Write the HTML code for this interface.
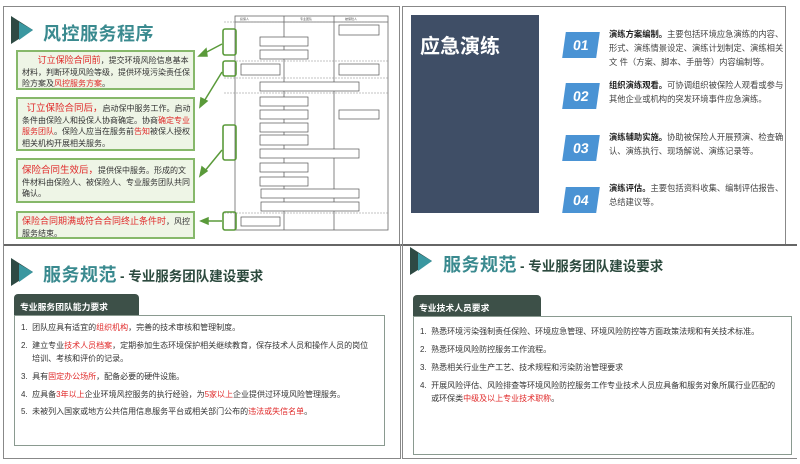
<!DOCTYPE html>
<html><head><meta charset="utf-8"><style>
*{margin:0;padding:0;box-sizing:border-box}
body{width:800px;height:464px;background:#fff;position:relative;overflow:hidden;font-family:"Liberation Sans","Noto Sans CJK SC",sans-serif}
.a{position:absolute}
.gb{position:absolute;left:16px;width:179px;background:#eef5e6;border:2px solid #86b86a;font-size:8px;line-height:11.5px;color:#333;padding:4px 2px 0 4px}
.r{color:#e02a2a}
.t{color:#3a8a8f;font-size:18px;font-weight:bold;letter-spacing:0.5px;white-space:nowrap}
.sub{color:#2c4a3e;font-size:13.5px;font-weight:bold;white-space:nowrap}
.tab{position:absolute;background:#3d5048;color:#fff;font-size:8.8px;font-weight:bold;padding:6px 6px;border-radius:4px 4px 0 0;white-space:nowrap}
.box{position:absolute;border:1.5px solid #8a9a90;font-size:8px;color:#333;line-height:12px}
.box p{position:absolute;left:6px;white-space:nowrap}
.num{position:absolute;left:564px;width:34px;height:26px;background:#4a93d4;color:#fff;font-weight:bold;font-size:14px;text-align:center;line-height:26px;transform:skewX(-8deg)}
.it{position:absolute;left:609px;width:180px;font-size:8.3px;line-height:14px;color:#444}
.it b{color:#222}
</style></head><body>
<div class="a" style="left:3px;top:6px;width:397px;height:239px;border:1.5px solid #888;border-bottom:none"></div>
<div class="a" style="left:402px;top:6px;width:384px;height:239px;border:1.5px solid #888;border-bottom:none"></div>
<div class="a" style="left:3px;top:244px;width:794px;height:1.5px;background:#666"></div>
<div class="a" style="left:3px;top:244px;width:398px;height:215px;border:1.5px solid #888;border-top:none"></div>
<div class="a" style="left:402px;top:244px;width:395px;height:215px;border-left:1.5px solid #888;border-bottom:1.5px solid #888"></div>

<svg class="a" style="left:11px;top:16px" width="24" height="28"><polygon points="0,0 22,14 0,28" fill="#2e4a44"/><polygon points="8,6 22,14 8,24" fill="#3a97a0"/></svg>
<div class="a t" style="left:43px;top:20px">风控服务程序</div>
<div class="gb" style="top:50px;height:40px;padding-top:3px">&nbsp;&nbsp;&nbsp;&nbsp;&nbsp;&nbsp;&nbsp;<span class="r" style="font-size:9px">订立保险合同前</span>，提交环境风险信息基本材料，判断环境风险等级，提供环境污染责任保险方案及<span class="r">风控服务方案</span>。</div>
<div class="gb" style="top:97px;height:54px;padding-top:4px">&nbsp;&nbsp;<span class="r" style="font-size:9.5px">订立保险合同后，</span>启动保中服务工作。启动条件由保险人和投保人协商确定。协商<span class="r">确定专业服务团队</span>。保险人应当在服务前<span class="r">告知</span>被保人授权相关机构开展相关服务。</div>
<div class="gb" style="top:158px;height:45px;padding-top:5px"><span class="r" style="font-size:9.5px">保险合同生效后，</span>提供保中服务。形成的文件材料由保险人、被保险人、专业服务团队共同确认。</div>
<div class="gb" style="top:211px;height:28px;padding-top:3px"><span class="r" style="font-size:9px">保险合同期满或符合合同终止条件时</span>，风控服务结束。</div>
<svg class="a" style="left:0;top:0" width="400" height="244">
<g stroke="#5a9a3a" stroke-width="1.5" fill="#5a9a3a">
<line x1="222" y1="44" x2="203" y2="54"/><polygon points="199,56 206,49 207,56"/>
<line x1="222" y1="72" x2="203" y2="103"/><polygon points="200,107 201,98 207,101"/>
<line x1="222" y1="150" x2="204" y2="172"/><polygon points="200,176 202,167 207,171"/>
<line x1="222" y1="221" x2="206" y2="221"/><polygon points="201,221 208,218 208,224"/>
</g>
<g fill="none" stroke="#666" stroke-width="0.8">
<rect x="235" y="16" width="153" height="214"/>
<line x1="284" y1="16" x2="284" y2="230"/><line x1="334" y1="16" x2="334" y2="230"/>
<line x1="235" y1="22" x2="388" y2="22"/>
</g>
<g stroke="#888" stroke-width="0.6" stroke-dasharray="2,1">
<line x1="224" y1="22" x2="388" y2="22"/><line x1="224" y1="61" x2="388" y2="61"/><line x1="224" y1="78" x2="388" y2="78"/><line x1="224" y1="93" x2="388" y2="93"/><line x1="224" y1="213" x2="388" y2="213"/>
</g>
<g fill="#fff" stroke="#555" stroke-width="0.7">
<rect x="339" y="25" width="40" height="10"/><rect x="260" y="37" width="48" height="9"/><rect x="260" y="50" width="48" height="9"/>
<rect x="241" y="64" width="39" height="11"/><rect x="339" y="64" width="40" height="11"/><rect x="260" y="82" width="99" height="9"/>
<rect x="260" y="97" width="48" height="9"/><rect x="260" y="110" width="48" height="9"/><rect x="260" y="123" width="48" height="9"/><rect x="260" y="135" width="48" height="10"/>
<rect x="260" y="149" width="99" height="9"/><rect x="339" y="110" width="40" height="9"/>
<rect x="260" y="163" width="48" height="9"/><rect x="260" y="177" width="48" height="9"/>
<rect x="261" y="189" width="98" height="9"/><rect x="261" y="202" width="98" height="9"/><rect x="241" y="217" width="39" height="9"/>
</g>
<g fill="none" stroke="#5a9a3a" stroke-width="1.6">
<rect x="223" y="29" width="13" height="26" rx="2"/><rect x="223" y="61" width="13" height="15" rx="2"/><rect x="223" y="125" width="13" height="35" rx="2"/><rect x="223" y="212" width="13" height="18" rx="2"/>
</g>
<g font-size="3" fill="#555"><text x="240" y="20">投保人</text><text x="300" y="20">专业团队</text><text x="345" y="20">被保险人</text></g>
</svg>

<div class="a" style="left:411px;top:15px;width:128px;height:198px;background:#3f4e66"></div>
<div class="a" style="left:420px;top:30px;color:#fff;font-size:20px;font-weight:bold">应急演练</div>
<div class="num" style="top:32px">01</div>
<div class="it" style="top:27px"><b>演练方案编制。</b>主要包括环境应急演练的内容、形式、演练情景设定、演练计划制定、演练相关文 件（方案、脚本、手册等）内容编制等。</div>
<div class="num" style="top:83px">02</div>
<div class="it" style="top:78px"><b>组织演练观看。</b>可协调组织被保险人观看或参与其他企业或机构的突发环境事件应急演练。</div>
<div class="num" style="top:135px">03</div>
<div class="it" style="top:130px"><b>演练辅助实施。</b>协助被保险人开展预演、检查确认、演练执行、现场解说、演练记录等。</div>
<div class="num" style="top:187px">04</div>
<div class="it" style="top:181px"><b>演练评估。</b>主要包括资料收集、编制评估报告、总结建议等。</div>

<svg class="a" style="left:11px;top:258px" width="24" height="28"><polygon points="0,0 22,14 0,28" fill="#2e4a44"/><polygon points="8,6 22,14 8,24" fill="#3a97a0"/></svg>
<div class="a t" style="left:43px;top:261px">服务规范</div>
<div class="a sub" style="left:120px;top:265px">- 专业服务团队建设要求</div>
<div class="tab" style="left:14px;top:294px;width:125px;height:22px">专业服务团队能力要求</div>
<div class="box" style="left:14px;top:315px;width:371px;height:131px">
<p style="top:6px">1.&nbsp;&nbsp;团队应具有适宜的<span class="r">组织机构</span>，完善的技术审核和管理制度。</p>
<p style="top:24px">2.&nbsp;&nbsp;建立专业<span class="r">技术人员档案</span>，定期参加生态环境保护相关继续教育，保存技术人员和操作人员的岗位</p>
<p style="top:37px">&nbsp;&nbsp;&nbsp;&nbsp;&nbsp;培训、考核和评价的记录。</p>
<p style="top:55px">3.&nbsp;&nbsp;具有<span class="r">固定办公场所</span>，配备必要的硬件设施。</p>
<p style="top:73px">4.&nbsp;&nbsp;应具备<span class="r">3年以上</span>企业环境风控服务的执行经验，为<span class="r">5家以上</span>企业提供过环境风险管理服务。</p>
<p style="top:90px">5.&nbsp;&nbsp;未被列入国家或地方公共信用信息服务平台或相关部门公布的<span class="r">违法或失信名单</span>。</p>
</div>

<svg class="a" style="left:410px;top:247px" width="24" height="28"><polygon points="0,0 22,14 0,28" fill="#2e4a44"/><polygon points="8,6 22,14 8,24" fill="#3a97a0"/></svg>
<div class="a t" style="left:443px;top:251px">服务规范</div>
<div class="a sub" style="left:520px;top:255px">- 专业服务团队建设要求</div>
<div class="tab" style="left:413px;top:295px;width:128px;height:22px">专业技术人员要求</div>
<div class="box" style="left:413px;top:316px;width:379px;height:139px">
<p style="top:9px">1.&nbsp;&nbsp;熟悉环境污染强制责任保险、环境应急管理、环境风险防控等方面政策法规和有关技术标准。</p>
<p style="top:27px">2.&nbsp;&nbsp;熟悉环境风险防控服务工作流程。</p>
<p style="top:45px">3.&nbsp;&nbsp;熟悉相关行业生产工艺、技术规程和污染防治管理要求</p>
<p style="top:63px;font-size:8px">4.&nbsp;&nbsp;开展风险评估、风险排查等环境风险防控服务工作专业技术人员应具备和服务对象所属行业匹配的</p>
<p style="top:76px">&nbsp;&nbsp;&nbsp;&nbsp;&nbsp;或环保类<span class="r">中级及以上专业技术职称</span>。</p>
</div>
</body></html>
